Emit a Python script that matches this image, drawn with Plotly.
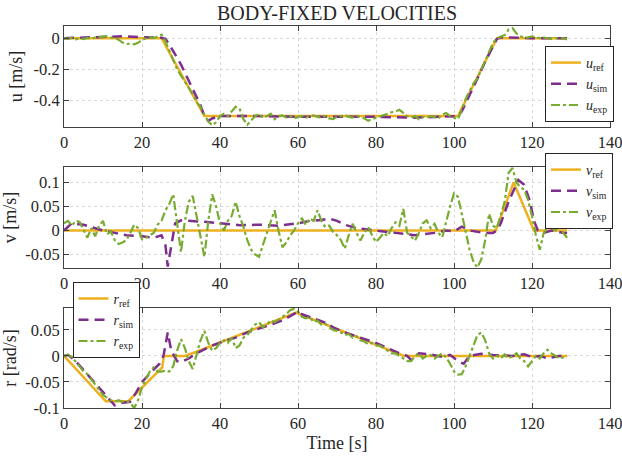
import plotly.graph_objects as go

# ---------------- data ----------------
T_EXP = list(range(0, 130))

U_REF_T = [0, 25, 36, 101, 111, 129]
U_REF = [0, 0, -0.5, -0.5, 0, 0]
U_SIM_T = [0, 5, 10, 15, 20, 25, 26, 27, 30, 33, 35, 36, 37, 38, 40, 50, 60, 70, 80, 90,
           100, 101, 102, 104, 106, 108, 110, 111, 112, 120, 129]
U_SIM = [0, 0.005, 0.01, 0.012, 0.006, 0.002, -0.005, -0.04, -0.17, -0.32, -0.43, -0.5, -0.53,
         -0.515, -0.5, -0.5, -0.505, -0.505, -0.505, -0.51, -0.505, -0.5, -0.47, -0.37, -0.26,
         -0.15, -0.05, -0.005, 0.005, 0.0, 0.0]
U_EXP = [0.0, -0.005, 0.003, -0.008, 0.0, -0.006, 0.002, -0.004, 0.005, 0.008,
         0.01, 0.012, 0.005, 0.0, -0.01, -0.028, -0.038, -0.034, -0.04, -0.03,
         -0.012, 0.0, 0.005, 0.0, 0.012, 0.022, -0.02, -0.08, -0.15, -0.2,
         -0.24, -0.28, -0.32, -0.36, -0.41, -0.44, -0.49, -0.535, -0.56, -0.54,
         -0.5, -0.485, -0.5, -0.47, -0.44, -0.45, -0.52, -0.555, -0.53, -0.5,
         -0.485, -0.51, -0.5, -0.485, -0.52, -0.5, -0.495, -0.51, -0.5, -0.515,
         -0.505, -0.5, -0.51, -0.5, -0.495, -0.505, -0.51, -0.5, -0.515, -0.52,
         -0.505, -0.5, -0.495, -0.505, -0.51, -0.5, -0.505, -0.515, -0.53, -0.52,
         -0.51, -0.5, -0.49, -0.48, -0.475, -0.47, -0.46, -0.48, -0.5, -0.51,
         -0.5, -0.52, -0.505, -0.51, -0.5, -0.505, -0.515, -0.49, -0.48, -0.5,
         -0.51, -0.52, -0.46, -0.39, -0.34, -0.29, -0.26, -0.2, -0.14, -0.08,
         -0.03, 0.0, 0.01, 0.02, 0.055, 0.065, 0.03, 0.015, 0.0, 0.005,
         0.012, 0.005, 0.0, 0.004, 0.0, -0.004, 0.0, -0.005, 0.0, -0.008]

V_REF_T = [0, 110.7, 115.3, 120.5, 129]
V_REF = [0, 0, 0.1, 0, 0]
V_SIM_T = [0, 2, 5, 8, 10, 13, 16, 20, 23, 25, 26, 26.6, 27.3, 28.5, 30, 33, 36, 40, 45, 50,
           55, 60, 63, 66, 68, 70, 72, 75, 80, 85, 90, 95, 98, 100, 102, 104, 108, 110, 111, 112,
           114, 116.5, 118, 119.5, 120.5, 121.5, 123, 125, 128, 129]
V_SIM = [0, 0.015, 0.012, 0.005, 0.0, -0.005, -0.01, -0.012, -0.015, -0.01,
         -0.03, -0.075, -0.04, 0.015, 0.021, 0.02, 0.018, 0.015, 0.011, 0.012,
         0.01, 0.015, 0.02, 0.022, 0.025, 0.02, 0.012, 0.005, 0.0, -0.005,
         -0.01, -0.005, 0.0, -0.002, 0.008, 0.0, -0.005, -0.005, 0.0, 0.015,
         0.06, 0.105, 0.095, 0.06, 0.02, 0.0, -0.005, 0.0, -0.005, -0.005]
V_EXP = [0.015, 0.02, 0.01, 0.02, 0.018, 0.0, -0.015, 0.005, -0.012, 0.01,
         0.02, -0.008, -0.002, -0.02, -0.028, -0.025, -0.02, -0.005, 0.012, 0.005,
         -0.018, -0.015, -0.01, -0.005, 0.012, 0.02, 0.042, 0.055, 0.075, 0.02,
         -0.045, 0.02, 0.06, 0.072, 0.03, -0.02, -0.055, 0.02, 0.075, 0.05,
         0.015, 0.0, 0.02, 0.03, 0.06, 0.03, 0.008, -0.02, -0.04, -0.05,
         -0.055, -0.03, -0.005, 0.02, 0.042, 0.0, -0.035, -0.025, -0.01, 0.0,
         0.015, 0.025, 0.012, 0.025, 0.02, 0.042, 0.02, 0.007, 0.01, -0.003,
         -0.01, -0.02, -0.038, -0.01, 0.014, -0.005, -0.021, -0.005, 0.007, -0.01,
         -0.024, -0.015, -0.005, -0.012, 0.005, 0.017, 0.01, 0.045, -0.005, -0.012,
         -0.021, -0.005, 0.015, 0.021, 0.005, 0.014, -0.005, -0.014, 0.02, 0.05,
         0.077, 0.07, 0.035, -0.005, -0.04, -0.065, -0.077, -0.06, -0.02, 0.035,
         0.01, 0.005, 0.035, 0.06, 0.12, 0.13, 0.1, 0.09, 0.085, 0.063,
         0.03, -0.01, -0.04, -0.005, 0.005, 0.01, 0.0, 0.012, -0.005, -0.015]

R_REF_T = [0, 10.7, 16.5, 25.2, 25.6, 31, 34, 59.5, 87.2, 129]
R_REF = [0, -0.087, -0.087, -0.022, 0, 0, 0.008, 0.083, 0, 0]
R_SIM_T = [0, 1, 3, 6, 9, 11, 13, 15, 17, 18.5, 20, 22.5, 24.5, 25.5, 26.6, 27.5, 29, 30, 32, 34,
           36, 38, 41, 44, 47, 50, 53, 56, 58.5, 60, 61, 64, 67, 69, 72, 76, 80, 83, 86, 88,
           89, 91, 94, 97, 99, 101, 102.5, 104, 107, 110, 115, 118, 120, 122, 124, 127, 129]
R_SIM = [0, 0.002, -0.01, -0.035, -0.06, -0.078, -0.095, -0.09, -0.088, -0.07,
         -0.05, -0.03, -0.015, 0.0, 0.045, 0.01, -0.01, -0.012, -0.005, 0.005,
         0.012, 0.02, 0.028, 0.035, 0.045, 0.052, 0.06, 0.068, 0.078, 0.085,
         0.08, 0.072, 0.064, 0.055, 0.045, 0.035, 0.025, 0.015, 0.005, 0.0,
         -0.008, 0.005, 0.003, -0.002, 0.002, -0.01, -0.015, 0.0, 0.004, 0.002,
         0.0, 0.003, -0.002, 0.0, -0.005, 0.0, 0.0]
R_EXP = [0.0, 0.002, -0.002, -0.01, -0.02, -0.03, -0.035, -0.045, -0.055, -0.065,
         -0.075, -0.08, -0.085, -0.088, -0.085, -0.088, -0.087, -0.09, -0.1, -0.085,
         -0.06, -0.045, -0.03, -0.022, -0.03, -0.03, -0.028, -0.03, -0.02, 0.01,
         0.032, 0.015, -0.01, -0.025, 0.005, 0.03, 0.048, 0.025, 0.01, 0.015,
         0.025, 0.03, 0.025, 0.035, 0.015, 0.02, 0.035, 0.04, 0.05, 0.06,
         0.065, 0.055, 0.06, 0.068, 0.065, 0.07, 0.075, 0.08, 0.088, 0.09,
         0.085, 0.075, 0.072, 0.075, 0.065, 0.068, 0.06, 0.062, 0.055, 0.05,
         0.048, 0.045, 0.04, 0.042, 0.035, 0.038, 0.03, 0.028, 0.022, 0.025,
         0.02, 0.02, 0.015, 0.01, 0.005, 0.005, 0.0, -0.005, -0.01, -0.01,
         0.0, 0.005, -0.005, 0.0, 0.002, -0.005, 0.0, 0.005, -0.003, -0.015,
         -0.03, -0.036, -0.035, -0.02, 0.0, 0.02, 0.04, 0.045, 0.03, 0.005,
         -0.005, 0.0, -0.005, 0.003, -0.005, 0.0, 0.005, -0.005, -0.01, -0.02,
         -0.01, 0.0, -0.005, 0.005, 0.012, 0.005, 0.0, -0.005, -0.003, 0.0]

X_TICKS = [0, 20, 40, 60, 80, 100, 120, 140]
U_TICKS = [0, -0.2, -0.4]
U_TICKTEXT = ["0", "-0.2", "-0.4"]
V_TICKS = [0.1, 0.05, 0, -0.05]
V_TICKTEXT = ["0.1", "0.05", "0", "-0.05"]
R_TICKS = [0.05, 0, -0.05, -0.1]
R_TICKTEXT = ["0.05", "0", "-0.05", "-0.1"]

# ---------------- style ----------------
FONT = "Liberation Serif, Times New Roman, serif"
C_REF = "#EDB120"
C_SIM = "#7E2F8E"
C_EXP = "#77AC30"
AX_C = "#404040"
TXT_C = "#262626"

fig = go.Figure()


def add_set(sym, xa, ya, leg, ref_t, ref, sim_t, sim, exp):
    fig.add_trace(go.Scatter(x=ref_t, y=ref, mode="lines", xaxis=xa, yaxis=ya, legend=leg,
                             name=f"<i>{sym}</i><sub>ref</sub>",
                             line=dict(color=C_REF, width=2.5)))
    fig.add_trace(go.Scatter(x=sim_t, y=sim, mode="lines", xaxis=xa, yaxis=ya, legend=leg,
                             name=f"<i>{sym}</i><sub>sim</sub>",
                             line=dict(color=C_SIM, width=2.5, dash="10px,6px")))
    fig.add_trace(go.Scatter(x=T_EXP, y=exp, mode="lines", xaxis=xa, yaxis=ya, legend=leg,
                             name=f"<i>{sym}</i><sub>exp</sub>",
                             line=dict(color=C_EXP, width=2.2, dash="9px,3px,3px,3px")))


add_set("u", "x", "y", "legend", U_REF_T, U_REF, U_SIM_T, U_SIM, U_EXP)
add_set("v", "x2", "y2", "legend2", V_REF_T, V_REF, V_SIM_T, V_SIM, V_EXP)
add_set("r", "x3", "y3", "legend3", R_REF_T, R_REF, R_SIM_T, R_SIM, R_EXP)

W, H = 622, 458
ML, MR, MT, MB = 64, 12, 26, 50
ph = H - MT - MB
pw = W - ML - MR


def dom(top_px, bot_px):
    return [(H - MB - bot_px) / ph, (H - MB - top_px) / ph]


axis_common = dict(showline=True, linecolor=AX_C, linewidth=1, mirror="allticks",
                   ticks="inside", ticklen=5, tickcolor=AX_C, tickwidth=1,
                   showgrid=True, gridcolor="#d8d8d8", griddash="dot", gridwidth=1,
                   zeroline=False, automargin=False, ticklabeloverflow="allow",
                   tickfont=dict(family=FONT, size=16.5, color=TXT_C))

xcommon = dict(axis_common, range=[0, 140], tickvals=X_TICKS, domain=[0, 1])

legend_common = dict(bgcolor="white", bordercolor=TXT_C, borderwidth=1,
                     font=dict(family=FONT, size=14, color=TXT_C),
                     itemwidth=30, tracegroupgap=0)

fig.update_layout(
    width=W, height=H,
    margin=dict(l=ML, r=MR, t=MT, b=MB, autoexpand=False),
    paper_bgcolor="white", plot_bgcolor="white",
    font=dict(family=FONT, color=TXT_C),
    title=dict(text="BODY-FIXED VELOCITIES", x=(ML + pw / 2) / W, xanchor="center",
               y=1 - 13 / H, yanchor="middle", font=dict(family=FONT, size=20, color=TXT_C)),
    xaxis=dict(xcommon, anchor="y"),
    xaxis2=dict(xcommon, anchor="y2"),
    xaxis3=dict(xcommon, anchor="y3",
                title=dict(text="Time [s]", font=dict(family=FONT, size=18), standoff=4)),
    yaxis=dict(axis_common, anchor="x", domain=dom(26, 127), range=[-0.57, 0.078],
               tickvals=U_TICKS, ticktext=U_TICKTEXT,
               title=dict(text="u [m/s]", font=dict(family=FONT, size=18), standoff=6)),
    yaxis2=dict(axis_common, anchor="x2", domain=dom(167, 268), range=[-0.078, 0.132],
                tickvals=V_TICKS, ticktext=V_TICKTEXT,
                title=dict(text="v [m/s]", font=dict(family=FONT, size=18), standoff=6)),
    yaxis3=dict(axis_common, anchor="x3", domain=dom(308, 408), range=[-0.1, 0.092],
                tickvals=R_TICKS, ticktext=R_TICKTEXT,
                title=dict(text="r [rad/s]", font=dict(family=FONT, size=18), standoff=6)),
    legend=dict(legend_common, x=(545 - ML) / pw, xanchor="left", y=(H - MB - 46) / ph, yanchor="top"),
    legend2=dict(legend_common, x=(545 - ML) / pw, xanchor="left", y=(H - MB - 153) / ph, yanchor="top"),
    legend3=dict(legend_common, x=(72.5 - ML) / pw, xanchor="left",
                 y=(H - MB - 282) / ph, yanchor="top"),
    showlegend=True,
)

fig.write_html("out.html")
